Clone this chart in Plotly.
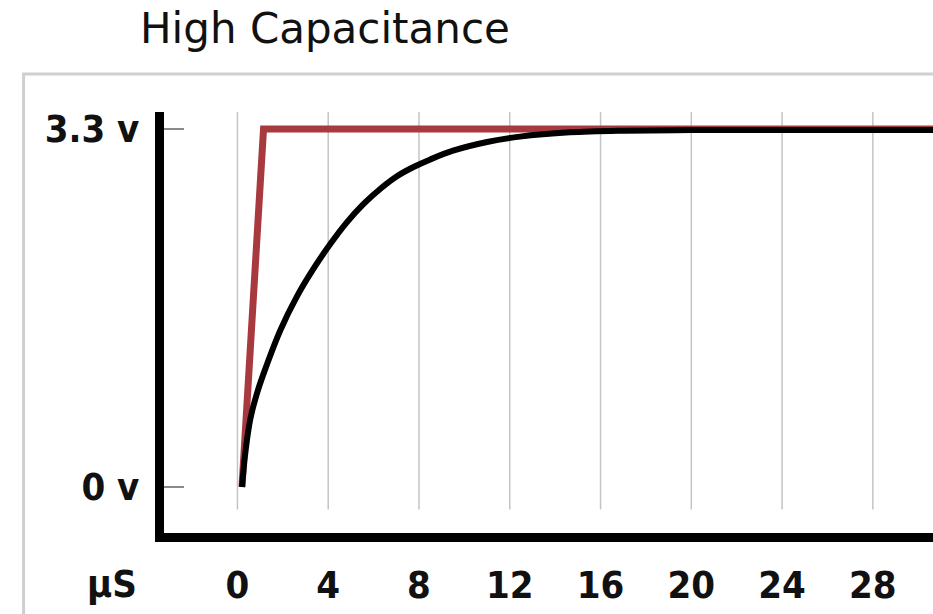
import plotly.graph_objects as go

# ---- data ----
x_tick_vals = [0, 4, 8, 12, 16, 20, 24, 28]
x_tick_text = ["0", "4", "8", "12", "16", "20", "24", "28"]
y_tick_vals = [0, 3.3]
y_tick_text = ["0 v", "3.3 v"]
x_unit_label = "µS"

input_t = [0.2, 1.15, 31]
input_v = [0.0, 3.3, 3.3]

cap_t = [0.2, 0.35, 0.57, 0.87, 1.16, 1.9, 2.63, 3.36, 4.09, 4.82, 5.56, 6.3,
         7.03, 7.76, 8.5, 9.5, 11.0, 12.45, 14.65, 16.85, 20, 31]
cap_v = [0.0, 0.32, 0.63, 0.87, 1.05, 1.45, 1.76, 2.015, 2.24, 2.44, 2.61, 2.75,
         2.865, 2.95, 3.02, 3.10, 3.18, 3.23, 3.27, 3.285, 3.29, 3.29]

title_text = "High Capacitance"

LABEL_FONT = dict(family="DejaVu Sans Condensed, DejaVu Sans", size=38, color="#111111")

fig = go.Figure()
fig.add_trace(go.Scatter(x=input_t, y=input_v, mode="lines",
                         line=dict(color="#a8393f", width=7), hoverinfo="skip"))
fig.add_trace(go.Scatter(x=cap_t, y=cap_v, mode="lines", line_shape="spline",
                         line=dict(color="#000000", width=6), hoverinfo="skip"))

# vertical grid lines (shortened like the reference)
for v in x_tick_vals:
    fig.add_shape(type="line", xref="x", yref="paper", x0=v, x1=v, y0=0.056, y1=1,
                  line=dict(color="#c4c4c4", width=1.5), layer="below")

# outer light frame
fig.add_shape(type="rect", xref="paper", yref="paper", x0=-0.1826, x1=1.2, y0=-0.3, y1=1.0902,
              line=dict(color="#cfcfcf", width=3), layer="below")

fig.add_annotation(text="<b>" + x_unit_label + "</b>", xref="paper", yref="paper",
                   x=-0.0331, y=-0.122, xanchor="right", yanchor="middle",
                   showarrow=False, font=LABEL_FONT)

fig.update_layout(
    width=933, height=614,
    margin=dict(l=163.5, r=0, t=112, b=80.5),
    paper_bgcolor="white", plot_bgcolor="white",
    showlegend=False,
    title=dict(text=title_text, x=140 / 933, xref="container", xanchor="left",
               y=1 - 28 / 614, yref="container", yanchor="middle",
               font=dict(family="DejaVu Sans", size=42, color="#111111")),
    xaxis=dict(range=[-3.236, 30.65], showgrid=False, zeroline=False, automargin=False,
               tickvals=x_tick_vals, ticktext=["<b>%s</b>" % t for t in x_tick_text],
               ticks="", tickfont=LABEL_FONT, ticklabelstandoff=10,
               showline=True, linecolor="black", linewidth=9),
    yaxis=dict(range=[-0.4236, 3.457], showgrid=False, zeroline=False, automargin=False,
               tickvals=y_tick_vals, ticktext=["<b>%s</b>" % t for t in y_tick_text],
               ticks="inside", ticklen=20, tickcolor="#8a8a8a", tickwidth=1.5,
               tickfont=LABEL_FONT, ticklabelstandoff=8,
               showline=True, linecolor="black", linewidth=9),
)

fig.write_html("out.html", config={"displayModeBar": False},
               post_script="document.body.style.margin='0';")
